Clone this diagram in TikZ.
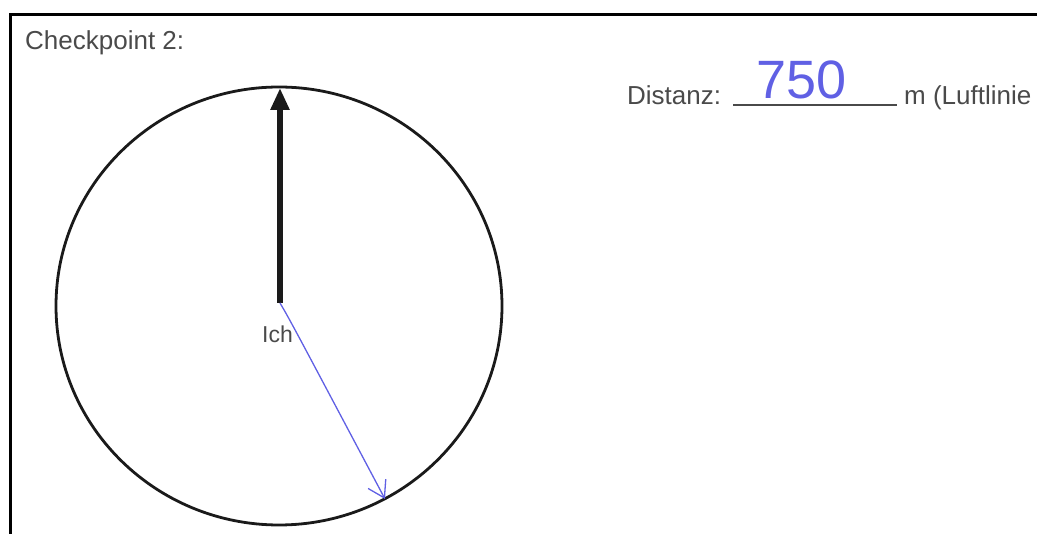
\documentclass[tikz,border=0pt]{standalone}
\usepackage{fontspec}
\setmainfont{Liberation Sans}
\usetikzlibrary{arrows.meta}
\definecolor{cpgray}{HTML}{4A4A4A}
\definecolor{cpink}{HTML}{6060E4}
\definecolor{cpline}{HTML}{1A1A1A}

\begin{document}
\begin{tikzpicture}[x=1pt,y=-1pt,
    txt/.style={font=\fontsize{26}{30}\selectfont,text=cpgray,inner sep=0pt},
    hand/.style={font=\fontsize{54}{60}\selectfont,text=cpink,inner sep=0pt}]
    \useasboundingbox (0,0) rectangle (1037,534);
    \clip (0,0) rectangle (1037,534);
    % Rahmen
    \draw[line width=3pt,black] (10,540) -- (10,15) -- (1045,15);
    % Kompass
    \draw[line width=2.8pt,cpline] (279,306) ellipse [x radius=223, y radius=219];
    \coordinate (ich) at (280,303);
    \coordinate (nord) at (280,88);
    \coordinate (ziel) at (385,499);
    \draw[line width=6pt,cpline,-{Triangle[length=22pt,width=18pt]}] (ich) -- (nord);
    \draw[line width=1.3pt,cpink,-{Straight Barb[length=16pt,width=20pt,line width=1.3pt]}] (ich) .. controls (290,320) .. (ziel);
    \node[txt,anchor=base west,font=\fontsize{23}{27}\selectfont] (ichlabel) at (262,343) {Ich};
    % Texte
    \node[txt,anchor=base west] (titel) at (25,50) {Checkpoint 2:};
    \node[txt,anchor=base west] (distanz) at (627,105) {Distanz:};
    \coordinate (linie a) at (733,105);
    \coordinate (linie b) at (897,105);
    \draw[line width=1.5pt,cpgray] (linie a) -- (linie b);
    \node[txt,anchor=base west] (einheit) at (904,105) {m (Luftlinie};
    \node[hand,anchor=base west] (wert) at (756,99) {750};
  \end{tikzpicture}
\end{document}
